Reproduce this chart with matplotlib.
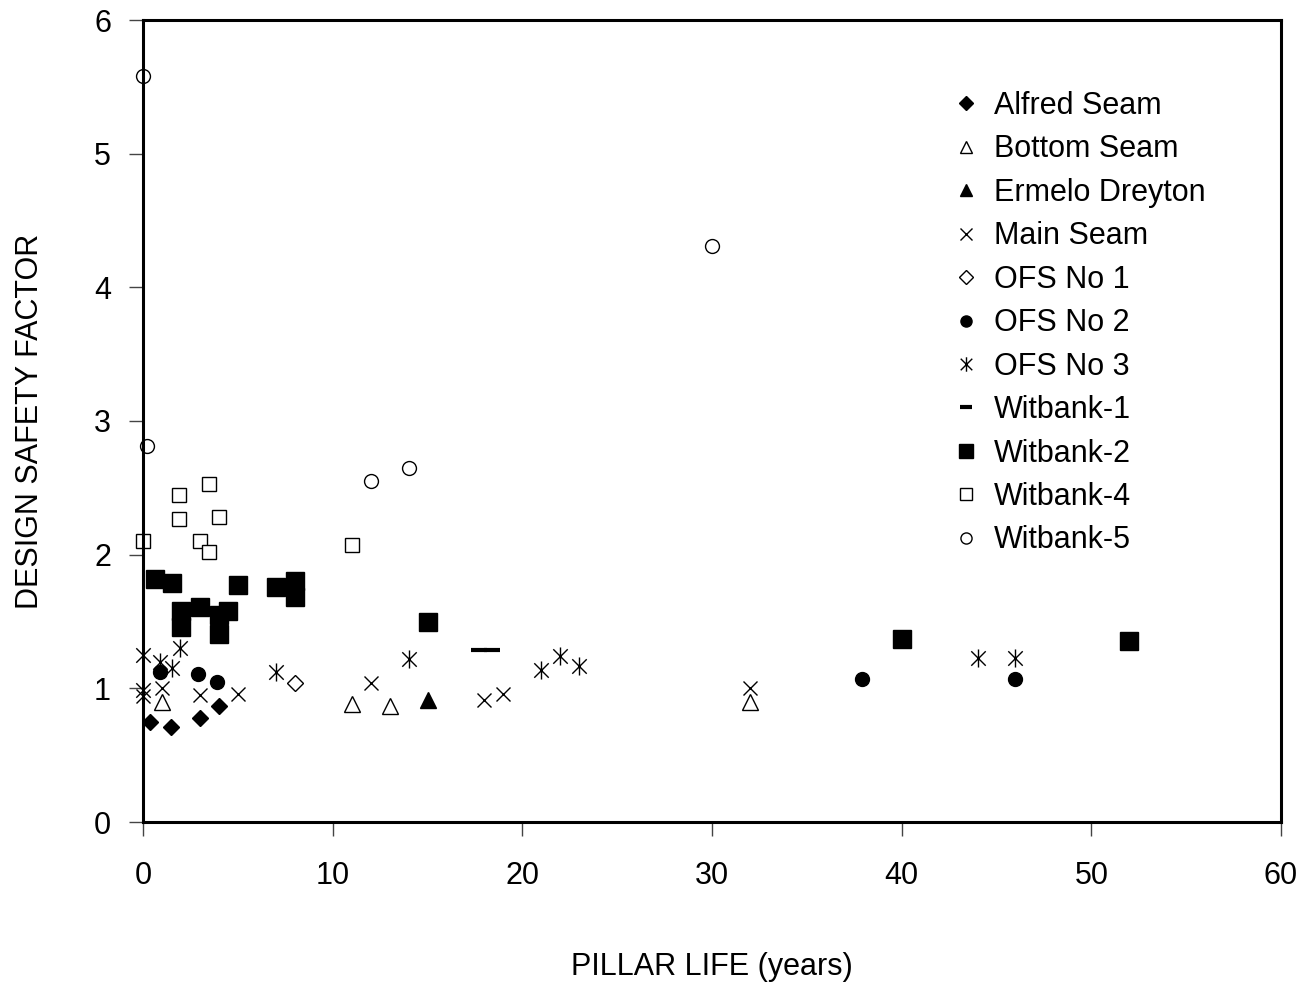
import matplotlib
matplotlib.use("Agg")
import matplotlib.pyplot as plt
from matplotlib.path import Path

plt.rcParams['font.family'] = ['Liberation Sans', 'DejaVu Sans']

# Pillar life (years) and design safety factor per coalfield / seam
alfred_x = [0.35, 1.5, 3.0, 4.0]
alfred_y = [0.75, 0.71, 0.78, 0.87]

bottom_x = [1.0, 11.0, 13.0, 32.0]
bottom_y = [0.90, 0.88, 0.87, 0.90]

ermelo_x = [15.0]
ermelo_y = [0.91]

main_x = [0.0, 1.0, 3.0, 5.0, 12.0, 18.0, 19.0, 32.0]
main_y = [0.94, 1.00, 0.95, 0.96, 1.04, 0.91, 0.955, 1.00]

ofs1_x = [8.0]
ofs1_y = [1.04]

ofs2_x = [0.9, 2.9, 3.9, 37.9, 46.0]
ofs2_y = [1.12, 1.11, 1.05, 1.07, 1.07]

ofs3_x = [0.0, 0.0, 0.9, 1.55, 1.95, 7.0, 14.0, 21.0, 22.0, 23.0, 44.0, 46.0]
ofs3_y = [1.25, 0.99, 1.20, 1.15, 1.30, 1.12, 1.22, 1.14, 1.24, 1.17, 1.23, 1.23]

wit1_x = [17.7, 18.4]
wit1_y = [1.29, 1.29]

wit2_x = [0.65, 1.55, 2.0, 2.0, 3.0, 4.0, 4.0, 4.5, 5.0, 7.0, 8.0, 8.0, 15.0, 40.0, 52.0]
wit2_y = [1.82, 1.79, 1.58, 1.46, 1.61, 1.55, 1.41, 1.58, 1.77, 1.76, 1.80, 1.68, 1.50, 1.37, 1.355]

wit4_x = [0.0, 1.9, 1.9, 3.0, 3.5, 3.5, 4.0, 11.0]
wit4_y = [2.10, 2.45, 2.27, 2.10, 2.53, 2.02, 2.28, 2.07]

wit5_x = [0.0, 0.2, 12.0, 14.0, 30.0]
wit5_y = [5.58, 2.81, 2.55, 2.65, 4.31]

x_ticks = [0, 10, 20, 30, 40, 50, 60]
y_ticks = [0, 1, 2, 3, 4, 5, 6]

# six-armed asterisk: an X crossed by a vertical stroke
star_path = Path(
    [(-1, -1), (1, 1), (-1, 1), (1, -1), (0, -1.25), (0, 1.25)],
    [Path.MOVETO, Path.LINETO, Path.MOVETO, Path.LINETO, Path.MOVETO, Path.LINETO],
)

fig = plt.figure(figsize=(13.03, 9.86), dpi=100)
ax = fig.add_axes([143 / 1303, 1 - 822 / 986, 1138 / 1303, 802 / 986])

k = dict(linestyle='none', clip_on=False)
ax.plot(alfred_x, alfred_y, marker='D', ms=8.5, mfc='black', mec='black', label='Alfred Seam', **k)
ax.plot(bottom_x, bottom_y, marker='^', ms=11, mfc='white', mec='black', mew=1.0, label='Bottom Seam', **k)
ax.plot(ermelo_x, ermelo_y, marker='^', ms=11, mfc='black', mec='black', label='Ermelo Dreyton', **k)
ax.plot(main_x, main_y, marker='x', ms=10, mec='black', mew=1.0, label='Main Seam', **k)
ax.plot(ofs1_x, ofs1_y, marker='D', ms=8.5, mfc='white', mec='black', mew=1.0, label='OFS No 1', **k)
ax.plot(ofs2_x, ofs2_y, marker='o', ms=10, mfc='black', mec='black', label='OFS No 2', **k)
ax.plot(ofs3_x, ofs3_y, marker=star_path, ms=13, mec='black', mew=1.0, label='OFS No 3', **k)
ax.plot(wit1_x, wit1_y, marker='_', ms=11, mec='black', mew=3.0, label='Witbank-1', **k)
ax.plot(wit2_x, wit2_y, marker='s', ms=12.5, mfc='black', mec='black', label='Witbank-2', **k)
ax.plot(wit4_x, wit4_y, marker='s', ms=10, mfc='white', mec='black', mew=1.0, label='Witbank-4', **k)
ax.plot(wit5_x, wit5_y, marker='o', ms=10, mfc='white', mec='black', mew=1.0, label='Witbank-5', **k)

ax.set_xlim(0, 60)
ax.set_ylim(0, 6)
ax.set_xticks(x_ticks)
ax.set_yticks(y_ticks)
ax.tick_params(axis='both', direction='out', length=10, width=1.0, labelsize=22, color='#444444')
ax.tick_params(axis='x', pad=18)
ax.tick_params(axis='y', pad=13)
for s in ax.spines.values():
    s.set_linewidth(2.2)
    s.set_color('black')

ax.set_xlabel('PILLAR LIFE (years)', fontsize=22)
ax.set_ylabel('DESIGN SAFETY FACTOR', fontsize=22)
ax.xaxis.set_label_coords(0.5, -0.162)
ax.yaxis.set_label_coords(-0.0865, 0.5)

leg = ax.legend(loc='upper left', bbox_to_anchor=(808 / 1138, 1 - 71 / 802),
                frameon=False, fontsize=22, markerscale=0.8,
                handlelength=1.0, handletextpad=0.4, labelspacing=0.44,
                borderpad=0, borderaxespad=0)

fig.savefig('out.png', dpi=100, facecolor='white')
